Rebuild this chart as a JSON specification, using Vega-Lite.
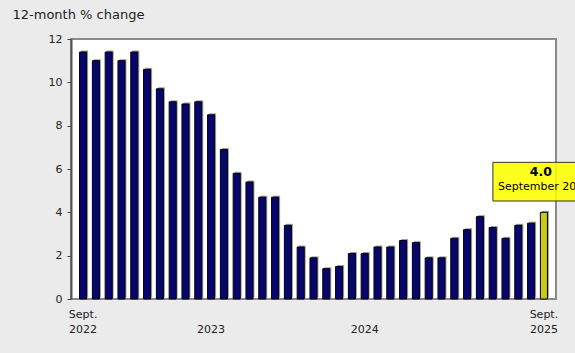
{
  "$schema": "https://vega.github.io/schema/vega-lite/v6.json",
  "autosize": {"type": "none"},
  "width": 485,
  "height": 260,
  "padding": {"left": 71, "top": 39, "right": 19, "bottom": 54},
  "background": "#ebebeb",
  "config": {
    "view": {"fill": "#ffffff", "stroke": "#8a8a8a", "strokeWidth": 2},
    "font": "DejaVu Sans"
  },
  "datasets": {
    "cpi": [
      {"month": "2022-09", "value": 11.4},
      {"month": "2022-10", "value": 11.0},
      {"month": "2022-11", "value": 11.4},
      {"month": "2022-12", "value": 11.0},
      {"month": "2023-01", "value": 11.4},
      {"month": "2023-02", "value": 10.6},
      {"month": "2023-03", "value": 9.7},
      {"month": "2023-04", "value": 9.1},
      {"month": "2023-05", "value": 9.0},
      {"month": "2023-06", "value": 9.1},
      {"month": "2023-07", "value": 8.5},
      {"month": "2023-08", "value": 6.9},
      {"month": "2023-09", "value": 5.8},
      {"month": "2023-10", "value": 5.4},
      {"month": "2023-11", "value": 4.7},
      {"month": "2023-12", "value": 4.7},
      {"month": "2024-01", "value": 3.4},
      {"month": "2024-02", "value": 2.4},
      {"month": "2024-03", "value": 1.9},
      {"month": "2024-04", "value": 1.4},
      {"month": "2024-05", "value": 1.5},
      {"month": "2024-06", "value": 2.1},
      {"month": "2024-07", "value": 2.1},
      {"month": "2024-08", "value": 2.4},
      {"month": "2024-09", "value": 2.4},
      {"month": "2024-10", "value": 2.7},
      {"month": "2024-11", "value": 2.6},
      {"month": "2024-12", "value": 1.9},
      {"month": "2025-01", "value": 1.9},
      {"month": "2025-02", "value": 2.8},
      {"month": "2025-03", "value": 3.2},
      {"month": "2025-04", "value": 3.8},
      {"month": "2025-05", "value": 3.3},
      {"month": "2025-06", "value": 2.8},
      {"month": "2025-07", "value": 3.4},
      {"month": "2025-08", "value": 3.5},
      {"month": "2025-09", "value": 4.0}
    ],
    "note": [
      {"month": "2025-09", "value": 4.0, "label": "September 2025"}
    ]
  },
  "layer": [
    {
      "data": {"name": "cpi"},
      "mark": {"type": "bar", "color": "#a0a0a0", "xOffset": 1.5, "yOffset": -1.5},
      "encoding": {
        "x": {"field": "month", "type": "ordinal", "sort": null,
          "scale": {"paddingInner": 0.45, "paddingOuter": 0.67},
          "axis": {
            "title": null, "domain": false, "ticks": false,
            "labelAngle": 0, "labelFontSize": 11, "labelColor": "#222",
            "labelBaseline": "top", "labelPadding": 9, "labelLineHeight": 15,
            "labelOverlap": false,
            "labelExpr": "datum.value == '2022-09' ? ['Sept.', '2022'] : datum.value == '2023-07' ? ['', '2023'] : datum.value == '2024-07' ? ['', '2024'] : datum.value == '2025-09' ? ['Sept.', '2025'] : ''"
          }
        },
        "y": {"field": "value", "type": "quantitative",
          "scale": {"domain": [0, 12], "nice": false},
          "axis": {
            "values": [0, 2, 4, 6, 8, 10, 12], "grid": false,
            "domainColor": "#555", "domainWidth": 2,
            "tickColor": "#444", "tickSize": 4, "tickWidth": 1,
            "labelFontSize": 11, "labelColor": "#222", "labelPadding": 5,
            "title": "12-month % change", "titleAngle": 0, "titleAlign": "left",
            "titleBaseline": "middle", "titleX": -59, "titleY": -25,
            "titleFontSize": 13, "titleFontWeight": "normal", "titleColor": "#222"
          }
        }
      }
    },
    {
      "data": {"name": "cpi"},
      "mark": {"type": "bar", "stroke": "#000000", "strokeWidth": 1},
      "encoding": {
        "x": {"field": "month", "type": "ordinal", "sort": null},
        "y": {"field": "value", "type": "quantitative"},
        "color": {
          "condition": {"test": "datum.month == '2025-09'", "value": "#c9c918"},
          "value": "#06066e"
        }
      }
    },
    {
      "data": {"name": "note"},
      "mark": {"type": "point", "shape": "M-1,-0.98H1.05V-0.222H-1Z", "size": 10404,
        "filled": true, "fill": "#ffff00", "fillOpacity": 0.88,
        "stroke": "#333333", "strokeWidth": 1, "opacity": 1},
      "encoding": {
        "x": {"field": "month", "type": "ordinal", "sort": null},
        "y": {"field": "value", "type": "quantitative"}
      }
    },
    {
      "data": {"name": "note"},
      "mark": {"type": "text", "fontWeight": "bold", "fontSize": 12.5, "dx": -3, "dy": -40, "align": "center", "baseline": "middle", "color": "#000"},
      "encoding": {
        "x": {"field": "month", "type": "ordinal", "sort": null},
        "y": {"field": "value", "type": "quantitative"},
        "text": {"field": "value", "type": "quantitative", "format": ".1f"}
      }
    },
    {
      "data": {"name": "note"},
      "mark": {"type": "text", "fontSize": 11, "dx": -46, "dy": -25, "align": "left", "baseline": "middle", "color": "#000"},
      "encoding": {
        "x": {"field": "month", "type": "ordinal", "sort": null},
        "y": {"field": "value", "type": "quantitative"},
        "text": {"field": "label", "type": "nominal"}
      }
    }
  ]
}
